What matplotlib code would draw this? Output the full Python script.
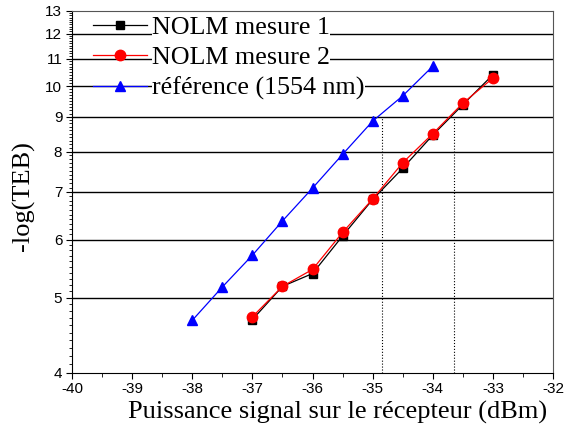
import matplotlib
matplotlib.use("Agg")
import matplotlib.pyplot as plt
from matplotlib.ticker import FixedLocator, NullFormatter
import numpy as np

plt.rcParams['axes.unicode_minus'] = False

# donnees
p_nolm = [-37, -36.5, -36, -35.5, -35, -34.5, -34, -33.5, -33]
teb_nolm1 = [4.68, 5.18, 5.39, 6.07, 6.83, 7.57, 8.46, 9.38, 10.40]
teb_nolm2 = [4.72, 5.18, 5.46, 6.14, 6.84, 7.71, 8.50, 9.43, 10.28]
p_ref = [-38, -37.5, -37, -36.5, -36, -35.5, -35, -34.5, -34]
teb_ref = [4.67, 5.17, 5.71, 6.37, 7.09, 7.93, 8.87, 9.67, 10.71]
p_marks = [-34.85, -33.64]
y_ticks = list(range(4, 14))
x_ticks = list(range(-40, -31))

# echelle TEB : log(-log(TEB) - 1)
fwd = lambda v: np.log10(np.maximum(v - 1, 1e-6))
inv = lambda u: 10 ** u + 1

fig = plt.figure(figsize=(5.68, 4.34), dpi=100)
ax = fig.add_axes([0.1268, 0.1406, 0.8468, 0.8341])

ax.set_yscale('function', functions=(fwd, inv))
ax.set_xlim(-40, -32)
ax.set_ylim(4, 13)

for lvl in y_ticks[1:-1]:
    ax.axhline(lvl, color='black', lw=1.0, zorder=1)
for p in p_marks:
    ax.plot([p, p], [4, 9], color='black', lw=0.8, ls=':', zorder=1)

ax.plot(p_nolm, teb_nolm1, '-s', color='black', ms=5.5, lw=0.9,
        label='NOLM mesure 1', zorder=3)
ax.plot(p_nolm, teb_nolm2, '-o', color='red', ms=7.5, lw=0.9,
        label='NOLM mesure 2', zorder=4)
ax.plot(p_ref, teb_ref, '-^', color='blue', ms=7.5, lw=0.9,
        label='référence (1554 nm)', zorder=3)

ax.yaxis.set_major_locator(FixedLocator(y_ticks))
ax.yaxis.set_major_formatter(plt.FuncFormatter(lambda v, pos: '%d' % round(v)))
ax.yaxis.set_minor_locator(FixedLocator(np.arange(4, 13.01, 0.1)))
ax.yaxis.set_minor_formatter(NullFormatter())
ax.xaxis.set_major_locator(FixedLocator(x_ticks))
ax.xaxis.set_minor_locator(FixedLocator(np.arange(-40, -32, 0.5)))

ax.tick_params(axis='both', which='major', direction='out', length=4,
               labelsize=11, labelfontfamily='Liberation Sans', pad=3)
ax.tick_params(axis='y', which='minor', direction='out', length=2)
ax.tick_params(axis='x', which='minor', direction='out', length=3)
ax.tick_params(axis='x', which='major', length=4.5, pad=2)

for s in ['top', 'right']:
    ax.spines[s].set_color('#555555')

ax.set_xlabel('Puissance signal sur le récepteur (dBm)', family='Liberation Serif',
              fontsize=19)
ax.xaxis.set_label_coords(0.553, -0.078)
ax.set_ylabel('-log(TEB)', family='Liberation Serif', fontsize=19)
ax.yaxis.set_label_coords(-0.078, 0.49)

leg = ax.legend(loc='upper left', bbox_to_anchor=(0.043, 0.987), frameon=False,
                prop={'family': 'Liberation Serif', 'size': 18.7},
                handlelength=2.1, borderpad=0.0, labelspacing=0.28,
                handletextpad=0.2, borderaxespad=0.0)
for t in leg.get_texts():
    t.set_bbox(dict(facecolor='white', edgecolor='none', pad=0))
leg.set_zorder(5)

fig.savefig('out.png', dpi=100)
